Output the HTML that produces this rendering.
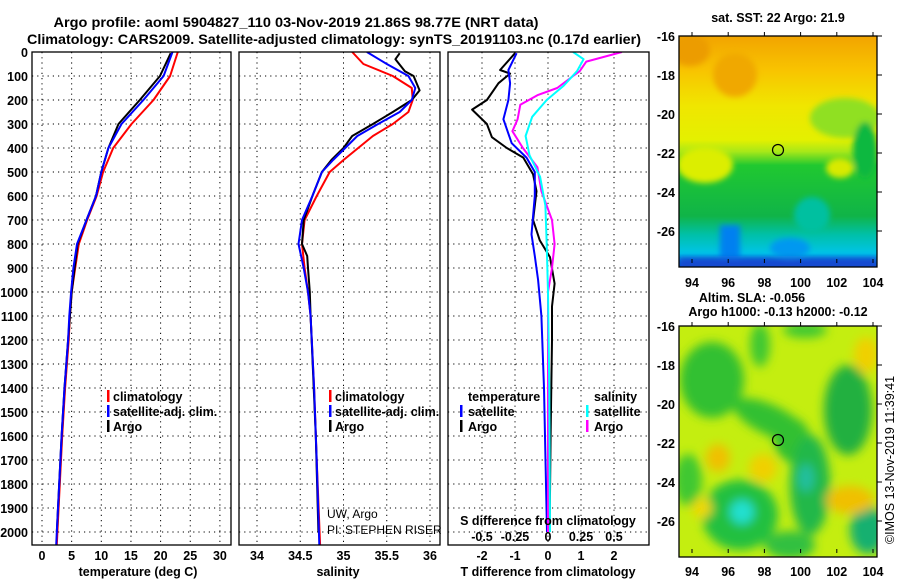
<!DOCTYPE html>
<html><head><meta charset="utf-8"><style>
html,body{margin:0;padding:0;background:#fff;}
svg{display:block;font-family:"Liberation Sans",Arial,sans-serif;font-weight:bold;}
</style></head><body>
<svg id="fig" width="900" height="580" viewBox="0 0 900 580" xmlns="http://www.w3.org/2000/svg">
<defs>
<clipPath id="c1"><rect x="32" y="52" width="199" height="493"/></clipPath>
<clipPath id="c2"><rect x="239" y="52" width="201" height="493"/></clipPath>
<clipPath id="c3"><rect x="448" y="52" width="201" height="493"/></clipPath>
<clipPath id="cm1"><rect x="679" y="36" width="198" height="231"/></clipPath>
<clipPath id="cm2"><rect x="679" y="326" width="198" height="231"/></clipPath>
<filter id="bl" x="-20%" y="-20%" width="140%" height="140%"><feGaussianBlur stdDeviation="5"/></filter>
<filter id="bs" x="-20%" y="-20%" width="140%" height="140%"><feGaussianBlur stdDeviation="3"/></filter>
<linearGradient id="sst" x1="0" y1="0" x2="0" y2="1">
<stop offset="0" stop-color="#f2a400"/><stop offset="0.15" stop-color="#f8c400"/>
<stop offset="0.3" stop-color="#f0e600"/><stop offset="0.45" stop-color="#e4f000"/>
<stop offset="0.5" stop-color="#a8e818"/><stop offset="0.56" stop-color="#20c830"/>
<stop offset="0.78" stop-color="#10b448"/><stop offset="0.86" stop-color="#00c0a8"/>
<stop offset="0.94" stop-color="#00c4e8"/><stop offset="1" stop-color="#0050d8"/>
</linearGradient>
</defs>

<text x="296" y="27" text-anchor="middle" font-size="14" textLength="485" lengthAdjust="spacingAndGlyphs">Argo profile: aoml 5904827_110 03-Nov-2019 21.86S 98.77E (NRT data)</text>
<text x="334" y="44" text-anchor="middle" font-size="14" textLength="614" lengthAdjust="spacingAndGlyphs">Climatology: CARS2009. Satellite-adjusted climatology: synTS_20191103.nc (0.17d earlier)</text>

<g id="grids"></g>
<g id="series"></g>
<g id="frames" fill="none" stroke="#000" stroke-width="1.3">
<rect x="32" y="52" width="199" height="493"/>
<rect x="239" y="52" width="201" height="493"/>
<rect x="448" y="52" width="201" height="493"/>
</g>
<g id="labels" font-size="12.5"></g>

<g font-size="12.5">
<rect x="107" y="390" width="2.5" height="12" fill="#f00"/><text x="113" y="401">climatology</text>
<rect x="107" y="405" width="2.5" height="12" fill="#00f"/><text x="113" y="416">satellite-adj. clim.</text>
<rect x="107" y="420" width="2.5" height="12" fill="#000"/><text x="113" y="431">Argo</text>
</g>
<g font-size="12.5">
<rect x="329" y="390" width="2.5" height="12" fill="#f00"/><text x="335" y="401">climatology</text>
<rect x="329" y="405" width="2.5" height="12" fill="#00f"/><text x="335" y="416">satellite-adj. clim.</text>
<rect x="329" y="420" width="2.5" height="12" fill="#000"/><text x="335" y="431">Argo</text>
</g>
<g font-size="12" font-weight="normal">
<text x="327" y="518">UW, Argo</text><text x="327" y="534">PI: STEPHEN RISER</text>
</g>
<g font-size="12.5">
<text x="468" y="401">temperature</text>
<rect x="460" y="405" width="2.5" height="12" fill="#00f"/><text x="468" y="416">satellite</text>
<rect x="460" y="420" width="2.5" height="12" fill="#000"/><text x="468" y="431">Argo</text>
<text x="594" y="401">salinity</text>
<rect x="586" y="405" width="2.5" height="12" fill="#0ff"/><text x="594" y="416">satellite</text>
<rect x="586" y="420" width="2.5" height="12" fill="#f0f"/><text x="594" y="431">Argo</text>
</g>

<!-- SST map -->
<g clip-path="url(#cm1)">
<rect x="679" y="36" width="198" height="231" fill="url(#sst)"/>
<g filter="url(#bs)">
<ellipse cx="735" cy="75" rx="22" ry="22" fill="#f0a800"/>
<ellipse cx="690" cy="50" rx="20" ry="16" fill="#ec9c00"/>
<ellipse cx="845" cy="118" rx="35" ry="20" fill="#90e020"/>
<ellipse cx="705" cy="165" rx="28" ry="18" fill="#dcee00"/>
<ellipse cx="840" cy="168" rx="14" ry="10" fill="#d8ea00"/>
<ellipse cx="865" cy="150" rx="12" ry="28" fill="#10b840"/>
<ellipse cx="812" cy="215" rx="18" ry="18" fill="#00c0a0"/>
<rect x="720" y="225" width="20" height="45" fill="#0080f0"/>
<ellipse cx="790" cy="248" rx="20" ry="10" fill="#0098f0"/>
<rect x="679" y="258" width="198" height="12" fill="#1848d0"/>
</g>
</g>
<rect x="679" y="36" width="198" height="231" fill="none" stroke="#000" stroke-width="1.3"/>
<circle cx="778" cy="150" r="5.5" fill="none" stroke="#000" stroke-width="1.2"/>

<!-- SLA map -->
<g clip-path="url(#cm2)">
<rect x="679" y="326" width="198" height="231" fill="#c4ee10"/>
<g filter="url(#bl)">
<ellipse cx="712" cy="380" rx="32" ry="38" fill="#30c030"/>
<ellipse cx="760" cy="345" rx="10" ry="22" fill="#40c830"/>
<ellipse cx="805" cy="330" rx="22" ry="8" fill="#40c830"/>
<ellipse cx="770" cy="420" rx="40" ry="15" fill="#30c030" transform="rotate(25 770 420)"/>
<ellipse cx="792" cy="440" rx="18" ry="22" fill="#30c030"/>
<ellipse cx="810" cy="485" rx="20" ry="50" fill="#20b848"/>
<ellipse cx="848" cy="410" rx="24" ry="45" fill="#20b040"/>
<ellipse cx="740" cy="515" rx="38" ry="35" fill="#20c040"/>
<ellipse cx="742" cy="512" rx="12" ry="12" fill="#20e0d0"/>
<ellipse cx="806" cy="478" rx="8" ry="14" fill="#20c0a0"/>
<ellipse cx="868" cy="530" rx="18" ry="24" fill="#18b070"/>
<ellipse cx="790" cy="545" rx="25" ry="14" fill="#30c040"/>
<ellipse cx="688" cy="480" rx="14" ry="26" fill="#40c830"/>
<ellipse cx="718" cy="458" rx="12" ry="14" fill="#f0c000"/>
<ellipse cx="763" cy="468" rx="14" ry="14" fill="#f0d000"/>
<ellipse cx="850" cy="500" rx="24" ry="14" fill="#f0c000"/>
<ellipse cx="866" cy="355" rx="12" ry="18" fill="#f0d000"/>
<ellipse cx="702" cy="508" rx="10" ry="10" fill="#f0d800"/>
</g>
</g>
<rect x="679" y="326" width="198" height="231" fill="none" stroke="#000" stroke-width="1.3"/>
<circle cx="778" cy="440" r="5.5" fill="none" stroke="#000" stroke-width="1.2"/>

<text x="778" y="22" text-anchor="middle" font-size="12.5">sat. SST: 22 Argo: 21.9</text>
<text x="752" y="302" text-anchor="middle" font-size="12.5">Altim. SLA: -0.056</text>
<text x="778" y="316" text-anchor="middle" font-size="12.5">Argo h1000: -0.13 h2000: -0.12</text>
<g id="maplabels" font-size="12.5"></g>
<text transform="translate(894,460) rotate(-90)" text-anchor="middle" font-size="12.5" font-weight="normal">©IMOS 13-Nov-2019 11:39:41</text>
</svg>

<script>
// ---- data ----
const tempDepth  = [0,100,200,300,400,500,600,700,800,900,1000,1100,1200,1400,1600,1800,2000,2054];
const tempClim   = [22.9,21.6,18.8,15.1,12.0,10.3,9.2,7.6,6.2,5.6,5.0,4.7,4.5,3.9,3.4,3.0,2.6,2.5];
const tempSat    = [22.0,20.5,17.1,13.4,11.2,10.0,9.1,7.5,5.9,5.3,4.9,4.6,4.4,3.8,3.3,2.9,2.5,2.4];
const argoDepth  = [5,100,200,300,400,500,600,700,800,900,1000,1100,1200,1400,1600,1800,2000];
const tempArgo   = [21.7,19.9,16.5,12.9,11.2,10.0,9.1,7.5,6.0,5.5,5.0,4.7,4.4,3.8,3.3,2.9,2.5];
const salDepth   = [0,50,100,150,200,250,300,350,400,450,500,600,700,800,900,1000,1100,1400,1700,2054];
const salClim    = [35.10,35.23,35.57,35.79,35.80,35.75,35.57,35.34,35.17,35.00,34.84,34.69,34.55,34.52,34.55,34.59,34.62,34.66,34.69,34.73];
const salSat     = [35.27,35.50,35.75,35.83,35.79,35.65,35.40,35.16,35.02,34.88,34.75,34.64,34.52,34.48,34.54,34.59,34.62,34.66,34.69,34.72];
const salArgoDepth=[5,30,80,100,160,200,250,300,350,400,450,500,600,700,800,850,900,1000,1100,1600,2000];
const salArgo    = [35.65,35.60,35.71,35.81,35.88,35.79,35.57,35.34,35.10,35.00,34.86,34.75,34.64,34.54,34.52,34.58,34.59,34.61,34.62,34.68,34.71];
const dtArgoDepth= [5,75,90,130,200,240,300,355,400,440,510,580,700,785,855,965,1060,1200,1600,2000];
const dtArgo     = [-1.0,-1.45,-1.15,-1.5,-1.85,-2.3,-1.85,-1.7,-1.25,-0.75,-0.45,-0.35,-0.45,-0.25,0.06,0.2,0.12,0.12,0.08,0.05];
const dtSatDepth = [5,75,130,200,280,380,440,500,600,760,850,950,1100,1400,2000];
const dtSat      = [-0.95,-1.2,-1.15,-1.2,-1.35,-1.1,-0.65,-0.4,-0.4,-0.5,-0.4,-0.3,-0.2,-0.12,-0.03];
const dsSatDepth = [0,30,80,140,200,270,350,430,520,640,800,1000,1400,2000];
const dsSat      = [0.19,0.27,0.22,0.12,-0.01,-0.12,-0.17,-0.14,-0.06,-0.02,-0.01,0.0,0.01,0.015];
const dsArgoDepth= [0,40,80,100,150,180,220,280,330,400,480,580,700,800,900,1000,1400,2000];
const dsArgo     = [0.56,0.29,0.24,0.19,0.07,-0.08,-0.21,-0.23,-0.27,-0.19,-0.08,-0.05,0.03,0.05,0.03,0.0,0.0,0.0];
const depthTicks = [0,100,200,300,400,500,600,700,800,900,1000,1100,1200,1300,1400,1500,1600,1700,1800,1900,2000];
const tempTicks  = [0,5,10,15,20,25,30];
const salTicks   = [34,34.5,35,35.5,36];
const dtTicks    = [-2,-1,0,1,2];
const dsTicks    = [-0.5,-0.25,0,0.25,0.5];
const dsTickLabels=["-0.5","-0.25","0","0.25","0.5"];
const lonTicks   = [94,96,98,100,102,104];
const latTicks   = [-16,-18,-20,-22,-24,-26];

// ---- scales ----
const yD  = d => 52 + d*0.24;
const xT  = t => 42 + t*5.93;
const xS  = s => 257 + (s-34)*86.5;
const xDT = t => 548 + t*33;
const xDS = s => 548 + s*132;
const xLon = l => 692 + (l-94)*18.1;
const yLat1 = l => 36 + (-16-l)*19.5;
const yLat2 = l => 326 + (-16-l)*19.5;

const NS='http://www.w3.org/2000/svg';
function mk(tag, attrs, parent){const e=document.createElementNS(NS,tag);for(const k in attrs)e.setAttribute(k,attrs[k]);parent.appendChild(e);return e;}
const grids=document.getElementById('grids'), series=document.getElementById('series'), labels=document.getElementById('labels'), ml=document.getElementById('maplabels');

function hgrid(x0,x1){depthTicks.forEach(d=>{if(d===0)return;const l=mk('line',{x1:x0,x2:x1,y1:yD(d),y2:yD(d),stroke:'#000','stroke-width':1,'stroke-dasharray':'1.2 4'},grids);});}
hgrid(32,231);hgrid(239,440);hgrid(448,649);
function vgrid(ticks,fx){ticks.forEach(t=>{const l=mk('line',{x1:fx(t),x2:fx(t),y1:52,y2:545,stroke:'#000','stroke-width':1,'stroke-dasharray':'1.2 4'},grids);});}
vgrid(tempTicks,xT);vgrid(salTicks,xS);vgrid(dtTicks,xDT);

function line(depths,vals,fx,color,clip,name){
  const pts=depths.map((d,i)=>fx(vals[i]).toFixed(1)+','+yD(d).toFixed(1)).join(' ');
  const p=mk('polyline',{points:pts,fill:'none',stroke:color,'stroke-width':2,'clip-path':'url(#'+clip+')','stroke-linejoin':'round'},series);
  
  
}
line(tempDepth,tempClim,xT,'#f00','c1','temperature-climatology-line');
line(argoDepth,tempArgo,xT,'#000','c1','temperature-argo-line');
line(tempDepth,tempSat,xT,'#00f','c1','temperature-satellite-line');
line(salDepth,salClim,xS,'#f00','c2','salinity-climatology-line');
line(salArgoDepth,salArgo,xS,'#000','c2','salinity-argo-line');
line(salDepth,salSat,xS,'#00f','c2','salinity-satellite-line');
line(dtArgoDepth,dtArgo,xDT,'#000','c3','t-diff-argo-line');
line(dtSatDepth,dtSat,xDT,'#00f','c3','t-diff-satellite-line');
line(dsArgoDepth,dsArgo,xDS,'#f0f','c3','s-diff-argo-line');
line(dsSatDepth,dsSat,xDS,'#0ff','c3','s-diff-satellite-line');

function txt(x,y,s,anchor,parent,name,size){const t=mk('text',{x:x,y:y,'text-anchor':anchor},parent);if(size)t.setAttribute('font-size',size);t.textContent=s;return t;}
depthTicks.forEach(d=>txt(28,yD(d)+5,String(d),'end',labels,'depth-tick-label'));
tempTicks.forEach(t=>txt(xT(t),560,String(t),'middle',labels,'temperature-tick-label'));
salTicks.forEach(t=>txt(xS(t),560,String(t),'middle',labels,'salinity-tick-label'));
dtTicks.forEach(t=>txt(xDT(t),560,String(t),'middle',labels,'t-diff-tick-label'));
dsTicks.forEach((t,i)=>txt(xDS(t),541,dsTickLabels[i],'middle',labels,'s-diff-tick-label'));
txt(548,525,'S difference from climatology','middle',labels,'s-diff-axis-title');
txt(138,576,'temperature (deg C)','middle',labels,'temperature-axis-title');
txt(338,576,'salinity','middle',labels,'salinity-axis-title');
txt(548,576,'T difference from climatology','middle',labels,'t-diff-axis-title');

lonTicks.forEach(l=>{
  txt(xLon(l),287,String(l),'middle',ml,'sst-lon-label');
  txt(xLon(l),576,String(l),'middle',ml,'sla-lon-label');
  [[36,40],[263,267],[326,330],[553,557]].forEach(p=>{const k=mk('line',{x1:xLon(l),x2:xLon(l),y1:p[0]-4,y2:p[0],stroke:'#000'},ml);});
});
latTicks.forEach(l=>{
  txt(675,yLat1(l)+5,String(l),'end',ml,'sst-lat-label');
  txt(675,yLat2(l)+5,String(l),'end',ml,'sla-lat-label');
  [yLat1(l),yLat2(l)].forEach(y=>{const k=mk('line',{x1:877,x2:882,y1:y,y2:y,stroke:'#000'},ml);});
});
</script>
</body></html>
